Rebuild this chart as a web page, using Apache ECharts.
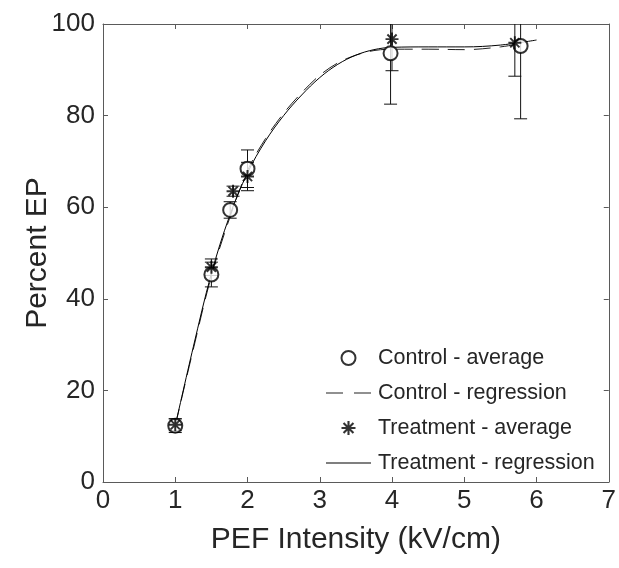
<!DOCTYPE html>
<html>
<head>
<meta charset="utf-8">
<script src="https://cdn.jsdelivr.net/npm/echarts@6/dist/echarts.min.js"></script>
<style>html,body{margin:0;padding:0;background:#fff}#c{width:619px;height:568px}</style>
</head>
<body>
<div id="c"></div>
<script>
// ---- data ----
const controlX = [1.0, 1.5, 1.76, 2.0, 3.98, 5.78];
const controlY = [12.3, 45.3, 59.4, 68.4, 93.6, 95.2];
const controlErr = [1.5, 2.7, 1.8, 4.1, 11.1, 15.9];

const treatX = [1.0, 1.5, 1.8, 2.0, 4.0, 5.7];
const treatY = [12.5, 46.9, 63.5, 66.7, 96.7, 95.9];
const treatErr = [1.3, 1.8, 1.1, 3.1, 6.9, 7.3];

const ctrlRegX = [1, 1.25, 1.5, 1.75, 2, 2.25, 2.5, 2.75, 3, 3.25, 3.5, 3.75, 4, 4.5, 5, 5.5, 5.8];
const ctrlRegY = [12.3, 29, 45, 57.5, 68, 75, 80.5, 85, 88.8, 91.5, 93.2, 94.2, 94.5, 94.5, 94.4, 95, 95.8];

const treatRegX = [1, 1.25, 1.5, 1.75, 2, 2.25, 2.5, 2.75, 3, 3.25, 3.5, 3.75, 4, 4.5, 5, 5.5, 6];
const treatRegY = [12.3, 29.5, 45.5, 58, 67.5, 74.5, 80, 84.5, 88.3, 91.2, 93.2, 94.4, 94.9, 95, 95, 95.4, 96.5];

const xTicks = [0, 1, 2, 3, 4, 5, 6, 7];
const yTicks = [0, 20, 40, 60, 80, 100];

const names = ['Control - average', 'Control - regression', 'Treatment - average', 'Treatment - regression'];
const xTitle = 'PEF Intensity (kV/cm)';
const yTitle = 'Percent EP';

// ---- chart ----
const FONT = '"Liberation Sans", Arial, Helvetica, sans-serif';
const TXT = '#262626';
const AX = '#5a5a5a';
const asterisk = 'path://M-0.75,-5L0.75,-5L0.75,5L-0.75,5Z M-5,-0.75L5,-0.75L5,0.75L-5,0.75Z ' +
  'M-4.07,-3.01L-3.01,-4.07L4.07,3.01L3.01,4.07Z M-3.01,4.07L-4.07,3.01L3.01,-4.07L4.07,-3.01Z';
const dashIcon = 'path://M0,0L17,0L17,1L0,1Z M28,0L45,0L45,1L28,1Z';
const solidIcon = 'path://M0,0L45,0L45,1L0,1Z';

function pairs(xs, ys) { return xs.map((x, i) => [x, ys[i]]); }
function errData(xs, ys, es) { return xs.map((x, i) => [x, ys[i] - es[i], ys[i] + es[i]]); }

function errRender(params, api) {
  const x = api.value(0);
  const lo = api.coord([x, api.value(1)]);
  const hi = api.coord([x, api.value(2)]);
  const hw = 6.5;
  const st = { stroke: '#111', lineWidth: 1 };
  return {
    type: 'group',
    children: [
      { type: 'line', shape: { x1: lo[0], y1: lo[1], x2: hi[0], y2: hi[1] }, style: st },
      { type: 'line', shape: { x1: lo[0] - hw, y1: lo[1], x2: lo[0] + hw, y2: lo[1] }, style: st },
      { type: 'line', shape: { x1: hi[0] - hw, y1: hi[1], x2: hi[0] + hw, y2: hi[1] }, style: st }
    ]
  };
}

const axisBase = {
  axisLine: { show: true, onZero: false, lineStyle: { color: AX, width: 1 } },
  axisTick: { show: true, inside: true, length: 5, lineStyle: { color: AX, width: 1 } },
  splitLine: { show: false }
};

const chart = echarts.init(document.getElementById('c'), null, { renderer: 'canvas' });
chart.setOption({
  animation: false,
  backgroundColor: '#fff',
  textStyle: { fontFamily: FONT, color: TXT },
  grid: { left: 103, right: 8, top: 24, bottom: 86, containLabel: false },
  legend: {
    orient: 'vertical',
    left: 321,
    top: 342,
    itemWidth: 45,
    itemHeight: 14,
    itemGap: 13,
    data: [
      { name: names[0], icon: 'emptyCircle' },
      { name: names[1], icon: dashIcon, itemStyle: { color: '#222' } },
      { name: names[2], icon: asterisk },
      { name: names[3], icon: solidIcon, itemStyle: { color: '#000' } }
    ],
    textStyle: { fontFamily: FONT, fontSize: 21.5, color: TXT, padding: [0, 0, 0, 2] },
    inactiveColor: '#ccc'
  },
  xAxis: [
    Object.assign({}, axisBase, {
      type: 'value', min: xTicks[0], max: xTicks[xTicks.length - 1], interval: 1,
      position: 'bottom',
      axisLabel: { fontSize: 26, color: TXT, margin: 6, fontFamily: FONT },
      name: xTitle, nameLocation: 'middle', nameGap: 43, nameMoveOverlap: false,
      nameTextStyle: { fontSize: 30, color: TXT, fontFamily: FONT }
    }),
    Object.assign({}, axisBase, {
      type: 'value', min: xTicks[0], max: xTicks[xTicks.length - 1], interval: 1,
      position: 'top', axisLabel: { show: false }
    })
  ],
  yAxis: [
    Object.assign({}, axisBase, {
      type: 'value', min: yTicks[0], max: yTicks[yTicks.length - 1], interval: 20,
      position: 'left',
      axisLabel: { fontSize: 26, color: TXT, margin: 8, fontFamily: FONT },
      name: yTitle, nameLocation: 'middle', nameGap: 50, nameMoveOverlap: false,
      nameTextStyle: { fontSize: 30, color: TXT, fontFamily: FONT }
    }),
    Object.assign({}, axisBase, {
      type: 'value', min: yTicks[0], max: yTicks[yTicks.length - 1], interval: 20,
      position: 'right', axisLabel: { show: false }
    })
  ],
  series: [
    {
      name: names[1], type: 'line', data: pairs(ctrlRegX, ctrlRegY),
      smooth: 0.35, symbol: 'none', z: 2,
      lineStyle: { color: '#222', width: 1, type: [17, 9] },
      itemStyle: { color: '#222' }
    },
    {
      name: names[3], type: 'line', data: pairs(treatRegX, treatRegY),
      smooth: 0.35, symbol: 'none', z: 3,
      lineStyle: { color: '#000', width: 1, type: 'solid' },
      itemStyle: { color: '#000' }
    },
    {
      type: 'custom', name: 'ctrlErr', renderItem: errRender, clip: true,
      data: errData(controlX, controlY, controlErr), z: 4, silent: true
    },
    {
      type: 'custom', name: 'treatErr', renderItem: errRender, clip: true,
      data: errData(treatX, treatY, treatErr), z: 4, silent: true
    },
    {
      name: names[0], type: 'scatter', data: pairs(controlX, controlY),
      symbol: 'emptyCircle', symbolSize: 14, z: 5,
      itemStyle: { color: '#000', borderColor: '#000', borderWidth: 1.2 }
    },
    {
      name: names[2], type: 'scatter', data: pairs(treatX, treatY),
      symbol: asterisk, symbolSize: 13, z: 6,
      itemStyle: { color: '#000' }
    }
  ]
});
</script>
</body>
</html>
